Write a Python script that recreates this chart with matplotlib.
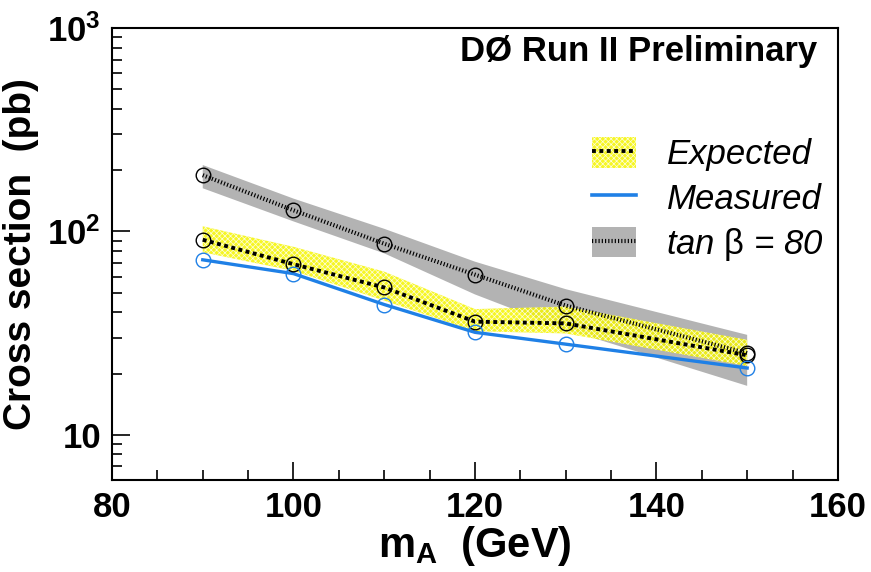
import numpy as np
import matplotlib
matplotlib.use("Agg")
import matplotlib.pyplot as plt
from matplotlib.patches import Patch
from matplotlib.lines import Line2D
from matplotlib.ticker import LogLocator, FixedLocator, NullFormatter

plt.rcParams["font.family"] = ["Liberation Sans", "DejaVu Sans"]
plt.rcParams["mathtext.fontset"] = "custom"
plt.rcParams["mathtext.rm"] = "Liberation Sans"
plt.rcParams["mathtext.it"] = "Liberation Sans:italic"
plt.rcParams["mathtext.bf"] = "Liberation Sans:bold"
plt.rcParams["hatch.linewidth"] = 0.5

# Higgs mass points (GeV)
mass = [90, 100, 110, 120, 130, 150]

# expected limit and +-1 sigma band (pb)
expected = [91, 69, 53, 36, 35.3, 24.6]
expected_lo = [79, 64, 45.7, 32.3, 31.5, 21.8]
expected_hi = [106, 84, 63.4, 41.5, 42.7, 29.3]

# measured limit (pb)
measured = [72.5, 62, 43.7, 31.9, 27.9, 21.3]

# tan beta = 80 prediction and its band (pb)
tanb = [189, 127, 87, 61.3, 43.2, 25.2]
tanb_lo = [163, 112, 78, 49, 33, 17.4]
tanb_hi = [212, 145, 103, 71, 52, 31]

ylim = (6.0, 1000.0)
blue = "#1f80e6"
gray = "#b3b3b3"
yellow = "#f5f500"

fig = plt.figure(figsize=(8.71, 5.72), dpi=100)
ax = fig.add_axes([0.1286, 0.161, 0.8334, 0.790])

ax.fill_between(mass, tanb_lo, tanb_hi, facecolor=gray, edgecolor="none", linewidth=0, zorder=1)
ax.fill_between(mass, expected_lo, expected_hi, facecolor=yellow, edgecolor="white",
                hatch="xxxxxx", linewidth=0, alpha=0.85, zorder=2)

ax.plot(mass, tanb, color="black", lw=3.0, dashes=(0.28, 0.5), dash_capstyle="butt", zorder=3)
ax.plot(mass, measured, color=blue, lw=2.4, zorder=3)
ax.plot(mass, expected, color="black", lw=2.8, dashes=(1.0, 0.9), dash_capstyle="butt", zorder=4)

ax.plot(mass, tanb, ls="none", marker="o", ms=10.5, mfc="none", mec="black", mew=1.0, zorder=5)
ax.plot(mass, expected, ls="none", marker="o", ms=10.5, mfc="none", mec="black", mew=1.0, zorder=5)
ax.plot(mass, measured, ls="none", marker="o", ms=10.5, mfc="none", mec=blue, mew=1.0, zorder=5)

ax.set_yscale("log")
ax.set_xlim(80, 160)
ax.set_ylim(*ylim)

ax.xaxis.set_major_locator(FixedLocator([80, 100, 120, 140, 160]))
ax.xaxis.set_minor_locator(FixedLocator(np.arange(80, 161, 5)))
ax.set_xticklabels(["80", "100", "120", "140", "160"])
ax.yaxis.set_major_locator(FixedLocator([10, 100, 1000]))
ax.set_yticklabels(["10", r"$\mathbf{10^{2}}$", r"$\mathbf{10^{3}}$"])
ax.yaxis.set_minor_locator(LogLocator(base=10, subs=np.arange(2, 10)))
ax.yaxis.set_minor_formatter(NullFormatter())

ax.tick_params(which="both", direction="in", top=False, right=False, width=1.2)
ax.tick_params(which="major", length=13, labelsize=25, pad=8)
ax.tick_params(which="minor", length=7)
for lab in ax.get_xticklabels() + ax.get_yticklabels():
    lab.set_fontweight("bold")
for sp in ax.spines.values():
    sp.set_linewidth(1.5)

ax.set_xlabel(r"$\mathbf{m_{A}}$  (GeV)", fontsize=30, fontweight="bold", labelpad=0)
ax.set_ylabel("Cross section  (pb)", fontsize=28, fontweight="bold", labelpad=6)

ax.text(0.972, 0.947, "DØ Run II Preliminary", transform=ax.transAxes,
        ha="right", va="center", fontsize=25, fontweight="bold")

handles = [
    (Patch(facecolor=yellow, edgecolor="white", hatch="xxxxxx", linewidth=0, alpha=0.85),
     Line2D([], [], color="black", lw=2.8, dashes=(1.0, 0.9))),
    Line2D([], [], color=blue, lw=2.6),
    (Patch(facecolor=gray, edgecolor="none"),
     Line2D([], [], color="black", lw=3.0, dashes=(0.28, 0.5))),
]
labels = ["Expected", "Measured", r"tan $\mathrm{\beta}$ = 80"]
leg = ax.legend(handles, labels, loc="upper left", bbox_to_anchor=(0.661, 0.758),
                frameon=False, prop={"style": "italic", "size": 25},
                handlelength=1.27, handleheight=0.96, handletextpad=0.88,
                labelspacing=0.3, borderpad=0, borderaxespad=0)

fig.savefig("out.png", dpi=100)
